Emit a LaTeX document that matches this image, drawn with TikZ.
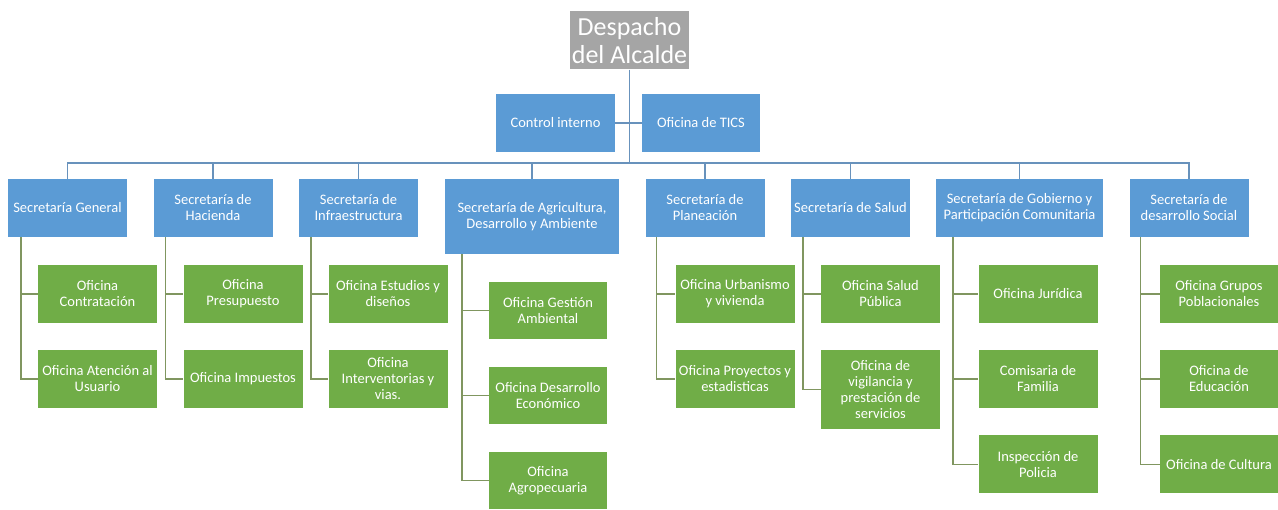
\documentclass[tikz,border=0pt]{standalone}
\usepackage{fontspec}
\setmainfont{Carlito}
\usetikzlibrary{calc}
\definecolor{azulsec}{RGB}{91,155,213}
\definecolor{verdeofi}{RGB}{112,173,71}
\definecolor{grisjefe}{RGB}{165,165,165}
\definecolor{lineabus}{RGB}{104,146,188}
\definecolor{linearama}{RGB}{128,150,96}
\tikzset{
  caja/.style={inner sep=0pt, align=center, text=white,
    font=\fontsize{14.5}{16}\selectfont,
    minimum width=119pt, minimum height=58pt},
  jefebox/.style={caja, fill=grisjefe, font=\fontsize{26}{28}\selectfont},
  secbox/.style={caja, fill=azulsec},
  ofibox/.style={caja, fill=verdeofi},
  bus/.style={draw=lineabus, line width=1.4pt},
  rama/.style={draw=linearama, line width=1.4pt}
}

\begin{document}
\begin{tikzpicture}[x=1pt, y=-1pt, line cap=butt, line join=miter]
  \useasboundingbox (0,0) rectangle (1278,510);

  % Despacho and its two advisers
  \node[jefebox] (jefe) at (629.5,40.5) {Despacho\\del Alcalde};
  \node[secbox] (ci)  at (555.5,123) {Control interno};
  \node[secbox, minimum width=118pt] (tic) at (701,123) {Oficina de TICS};

  % Secretarias (first level)
  \node[secbox] (sg) at (67.5,208)  {Secretaría General};
  \node[secbox] (sh) at (213,208)   {Secretaría de\\Hacienda};
  \node[secbox] (si) at (358.5,208) {Secretaría de\\Infraestructura};
  \node[secbox, minimum width=174pt, minimum height=75pt] (sa) at (532,216.5)
    {Secretaría de Agricultura,\\Desarrollo y Ambiente};
  \node[secbox] (sp) at (705,208)   {Secretaría de\\Planeación};
  \node[secbox] (ss) at (850.5,208) {Secretaría de Salud};
  \node[secbox, minimum width=167pt] (sgo) at (1019.5,208)
    {Secretaría de Gobierno y\\Participación Comunitaria};
  \node[secbox] (sd) at (1189,208)  {Secretaría de\\desarrollo Social};

  % Oficinas (second level)
  \node[ofibox] (g1) at (97.5,294) {Oficina\\Contratación};
  \node[ofibox] (g2) at (97.5,379) {Oficina Atención al\\Usuario};

  \node[ofibox] (h1) at (243,294) {Oficina\\Presupuesto};
  \node[ofibox] (h2) at (243,379) {Oficina Impuestos};

  \node[ofibox] (i1) at (388,294) {Oficina Estudios y\\diseños};
  \node[ofibox] (i2) at (388,379) {Oficina\\Interventorias y\\vias.};

  \node[ofibox, minimum width=118pt, minimum height=57pt] (a1) at (548,310.5) {Oficina Gestión\\Ambiental};
  \node[ofibox, minimum width=118pt, minimum height=57pt] (a2) at (548,395.5) {Oficina Desarrollo\\Económico};
  \node[ofibox, minimum width=118pt, minimum height=57pt] (a3) at (548,480.5) {Oficina\\Agropecuaria};

  \node[ofibox] (p1) at (735,294) {Oficina Urbanismo\\y vivienda};
  \node[ofibox] (p2) at (735,379) {Oficina Proyectos y\\estadisticas};

  \node[ofibox] (s1) at (880.5,294) {Oficina Salud\\Pública};
  \node[ofibox, minimum height=79pt] (s2) at (880.5,389.5)
    {Oficina de\\vigilancia y\\prestación de\\servicios};

  \node[ofibox] (o1) at (1038,294)   {Oficina Jurídica};
  \node[ofibox] (o2) at (1038,379)   {Comisaria de\\Familia};
  \node[ofibox] (o3) at (1038,464.5) {Inspección de\\Policia};

  \node[ofibox, minimum width=118pt] (d1) at (1219,294)   {Oficina Grupos\\Poblacionales};
  \node[ofibox, minimum width=118pt] (d2) at (1219,379)   {Oficina de\\Educación};
  \node[ofibox, minimum width=118pt] (d3) at (1219,464.5) {Oficina de Cultura};

  % Main bus
  \coordinate (bus) at (629.5,163);
  \draw[bus] (jefe.south) -- (jefe.south |- bus);
  \draw[bus] (ci.east) -- (tic.west);
  \draw[bus] (sg.north) |- (bus) -| (sd.north);
  \foreach \s in {sh,si,sa,sp,ss,sgo}
    \draw[bus] (\s.north) -- (\s.north |- bus);

  % Branches to the oficinas
  \draw[rama] ([xshift=13pt]sg.south west) |- (g2.west);
  \draw[rama] ([xshift=13pt]sg.south west |- g1.west) -- (g1.west);
  \draw[rama] ([xshift=12pt]sh.south west) |- (h2.west);
  \draw[rama] ([xshift=12pt]sh.south west |- h1.west) -- (h1.west);
  \draw[rama] ([xshift=12pt]si.south west) |- (i2.west);
  \draw[rama] ([xshift=12pt]si.south west |- i1.west) -- (i1.west);
  \draw[rama] ([xshift=17pt]sa.south west) |- (a3.west);
  \draw[rama] ([xshift=17pt]sa.south west |- a1.west) -- (a1.west);
  \draw[rama] ([xshift=17pt]sa.south west |- a2.west) -- (a2.west);
  \draw[rama] ([xshift=11pt]sp.south west) |- (p2.west);
  \draw[rama] ([xshift=11pt]sp.south west |- p1.west) -- (p1.west);
  \draw[rama] ([xshift=12pt]ss.south west) |- (s2.west);
  \draw[rama] ([xshift=12pt]ss.south west |- s1.west) -- (s1.west);
  \draw[rama] ([xshift=17pt]sgo.south west) |- (o3.west);
  \draw[rama] ([xshift=17pt]sgo.south west |- o1.west) -- (o1.west);
  \draw[rama] ([xshift=17pt]sgo.south west |- o2.west) -- (o2.west);
  \draw[rama] ([xshift=11pt]sd.south west) |- (d3.west);
  \draw[rama] ([xshift=11pt]sd.south west |- d1.west) -- (d1.west);
  \draw[rama] ([xshift=11pt]sd.south west |- d2.west) -- (d2.west);
\end{tikzpicture}
\end{document}
